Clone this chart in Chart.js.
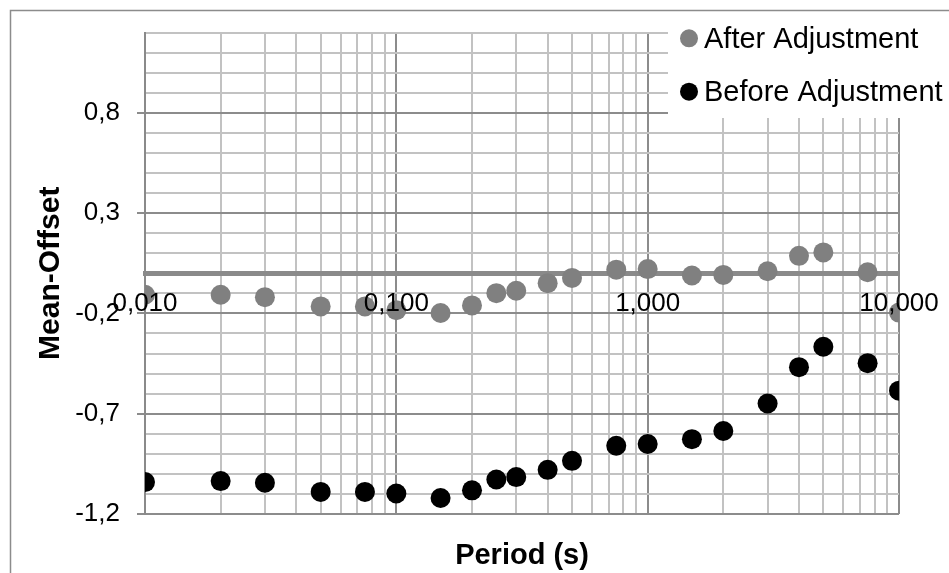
<!DOCTYPE html>
<html>
<head>
<meta charset="utf-8">
<script src="https://cdn.jsdelivr.net/npm/chart.js@4.4.1/dist/chart.umd.min.js"></script>
<style>
  html, body { margin: 0; padding: 0; background: #ffffff; }
  canvas { display: block; }
</style>
</head>
<body>
<canvas id="chart" width="949" height="573"></canvas>
<script>
// Periods (s) of the spectral ordinates
const periods = [0.01, 0.02, 0.03, 0.05, 0.075, 0.1, 0.15, 0.2, 0.25, 0.3, 0.4, 0.5,
                 0.75, 1, 1.5, 2, 3, 4, 5, 7.5, 10];

// Mean offset per period, after and before the adjustment
const afterAdjustment = [-0.107, -0.107, -0.119, -0.165, -0.165, -0.184, -0.198, -0.160,
                         -0.099, -0.087, -0.049, -0.023, 0.018, 0.021, -0.011, -0.008,
                         0.010, 0.087, 0.104, 0.005, -0.196];
const beforeAdjustment = [-1.041, -1.036, -1.044, -1.090, -1.090, -1.098, -1.120, -1.082,
                          -1.028, -1.016, -0.980, -0.935, -0.860, -0.851, -0.827, -0.786,
                          -0.649, -0.468, -0.366, -0.448, -0.585];

const seriesNames = ['After Adjustment', 'Before Adjustment'];

// Labelled ticks
const xTickValues = [0.01, 0.1, 1, 10];
const xTickLabels = ['0,010', '0,100', '1,000', '10,000'];
const yTickValues = [-1.2, -0.7, -0.2, 0.3, 0.8];
const yTickLabels = ['-1,2', '-0,7', '-0,2', '0,3', '0,8'];

const xTitle = 'Period (s)';
const yTitle = 'Mean-Offset';

const FONT = "'Liberation Sans', Arial, Helvetica, sans-serif";
const MAJOR_GRID = '#8c8c8c';
const MINOR_GRID = '#c2c2c2';

function matchIndex(list, v) {
  for (let i = 0; i < list.length; i++) {
    if (Math.abs(list[i] - v) < 1e-9 * Math.max(1, Math.abs(v))) return i;
  }
  return -1;
}
const isMajorX = v => matchIndex(xTickValues, v) >= 0;
const isMajorY = v => matchIndex(yTickValues, v) >= 0;

// Log grid: 1..9 in each decade between the first and last labelled tick
function logGridValues() {
  const out = [];
  for (let d = 0; d < xTickValues.length - 1; d++) {
    for (let m = 1; m <= 9; m++) {
      out.push(Number((xTickValues[d] * m).toPrecision(6)));
    }
  }
  out.push(xTickValues[xTickValues.length - 1]);
  return out;
}
// Linear grid every 0.1
function linearGridValues(min, max) {
  const out = [];
  for (let i = Math.round(min * 10); i <= Math.round(max * 10); i++) out.push(i / 10);
  return out;
}

const frame = {
  id: 'frame',
  beforeDraw(chart) {
    const ctx = chart.ctx;
    ctx.save();
    ctx.fillStyle = '#ffffff';
    ctx.fillRect(0, 0, chart.width, chart.height);
    ctx.strokeStyle = '#8c8c8c';
    ctx.lineWidth = 1.5;
    ctx.strokeRect(10.5, 10.5, 1000, 1000);
    ctx.restore();
  }
};

const sideLegend = {
  id: 'sideLegend',
  afterDraw(chart) {
    const ctx = chart.ctx;
    ctx.save();
    ctx.fillStyle = '#ffffff';
    ctx.fillRect(668, 12, chart.width - 668, 106);
    ctx.font = '29px ' + FONT;
    ctx.textAlign = 'left';
    ctx.textBaseline = 'alphabetic';
    const rows = [38.3, 91.7];
    chart.data.datasets.forEach((ds, i) => {
      ctx.fillStyle = ds.backgroundColor;
      ctx.beginPath();
      ctx.arc(689, rows[i], 9, 0, Math.PI * 2);
      ctx.fill();
      ctx.fillStyle = '#000000';
      ctx.fillText(ds.label, 704, rows[i] + 9.5);
    });
    ctx.restore();
  }
};

new Chart(document.getElementById('chart'), {
  type: 'scatter',
  data: {
    datasets: [
      {
        label: seriesNames[0],
        data: periods.map((p, i) => ({ x: p, y: afterAdjustment[i] })),
        backgroundColor: '#808080',
        borderWidth: 0,
        pointRadius: 10,
        pointHoverRadius: 10
      },
      {
        label: seriesNames[1],
        data: periods.map((p, i) => ({ x: p, y: beforeAdjustment[i] })),
        backgroundColor: '#000000',
        borderWidth: 0,
        pointRadius: 10,
        pointHoverRadius: 10
      }
    ]
  },
  options: {
    responsive: false,
    devicePixelRatio: 1,
    animation: false,
    events: [],
    layout: { padding: { top: 29, right: 50, bottom: 59, left: 0 } },
    plugins: {
      legend: { display: false },
      tooltip: { enabled: false }
    },
    scales: {
      x: {
        type: 'logarithmic',
        position: { y: 0 },
        min: 0.01,
        max: 10,
        afterBuildTicks: scale => { scale.ticks = logGridValues().map(v => ({ value: v, major: isMajorX(v) })); },
        afterFit: scale => { scale.height = 300; },
        grid: {
          color: c => (c.tick && isMajorX(c.tick.value)) ? MAJOR_GRID : MINOR_GRID,
          lineWidth: 2,
          drawTicks: true,
          tickLength: 8,
          tickWidth: 2,
          tickColor: c => (c.tick && isMajorX(c.tick.value)) ? MAJOR_GRID : 'rgba(0,0,0,0)'
        },
        border: { display: true, color: '#8a8a8a', width: 5 },
        ticks: {
          z: 1,
          autoSkip: false,
          maxRotation: 0,
          minRotation: 0,
          padding: 7,
          color: '#000000',
          font: { family: FONT, size: 26 },
          callback: v => { const k = matchIndex(xTickValues, v); return k >= 0 ? xTickLabels[k] : ''; }
        },
        title: {
          display: true,
          text: xTitle,
          color: '#000000',
          padding: { top: 0, bottom: 0 },
          font: { family: FONT, size: 29, weight: 'bold', lineHeight: 1.2 }
        }
      },
      y: {
        type: 'linear',
        position: 'left',
        min: -1.2,
        max: 1.2,
        afterBuildTicks: scale => { scale.ticks = linearGridValues(-1.2, 1.2).map(v => ({ value: v })); },
        afterFit: scale => { scale.width = 145; },
        grid: {
          color: c => (c.tick && isMajorY(c.tick.value)) ? MAJOR_GRID : MINOR_GRID,
          lineWidth: 2,
          drawTicks: true,
          tickLength: 8,
          tickWidth: 2,
          tickColor: c => (c.tick && isMajorY(c.tick.value)) ? MAJOR_GRID : 'rgba(0,0,0,0)'
        },
        border: { display: true, color: '#8a8a8a', width: 2 },
        ticks: {
          autoSkip: false,
          padding: 17,
          color: '#000000',
          font: { family: FONT, size: 26 },
          callback: v => { const k = matchIndex(yTickValues, v); return k >= 0 ? yTickLabels[k] : ''; }
        },
        title: {
          display: true,
          text: yTitle,
          color: '#000000',
          padding: { top: 33, bottom: 0 },
          font: { family: FONT, size: 30, weight: 'bold', lineHeight: 1.2 }
        }
      }
    }
  },
  plugins: [frame, sideLegend]
});
</script>
</body>
</html>
